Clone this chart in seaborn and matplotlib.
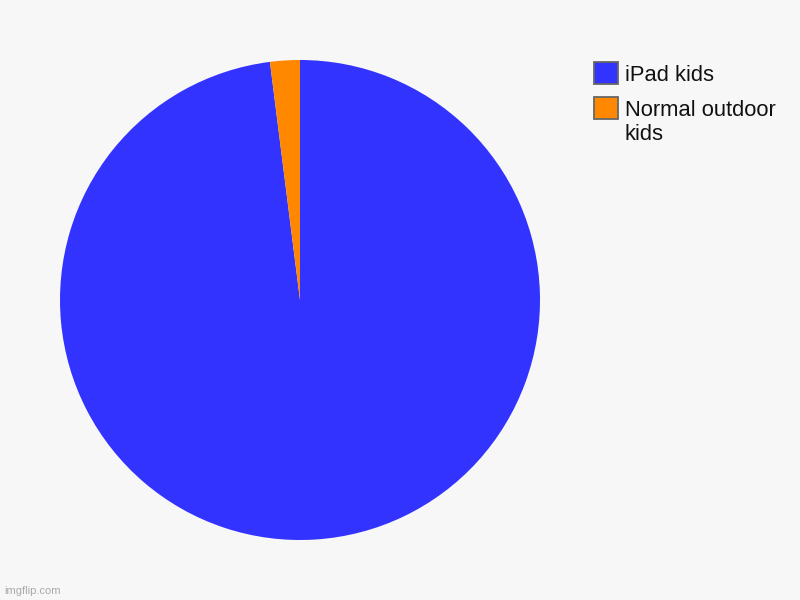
import matplotlib
matplotlib.use("Agg")
import matplotlib.pyplot as plt
from matplotlib.patches import Rectangle
import seaborn as sns

labels = ["iPad kids", "Normal outdoor\nkids"]
values = [98, 2]
colors = ["#3333FF", "#FF8800"]

sns.set_style("white")
plt.rcParams['font.family'] = ['Liberation Sans', 'DejaVu Sans']

bg = "#F7F7F7"
W, H = 800, 600
fig = plt.figure(figsize=(8, 6), dpi=100, facecolor=bg)
ax = fig.add_axes([60/W, 60/H, 480/W, 480/H])
ax.set_facecolor(bg)
ax.pie(values, colors=colors, startangle=90, counterclock=False,
       wedgeprops=dict(linewidth=0), radius=1.0)
ax.set_xlim(-1, 1)
ax.set_ylim(-1, 1)
ax.set_aspect('equal')
ax.axis('off')

# legend (drawn manually to match the reference layout)
box_x, box_w, box_h = 594, 24, 22
entry_tops = [62, 97]
line_gap = 24
for top, lab, col in zip(entry_tops, labels, colors):
    fig.patches.append(Rectangle((box_x/W, 1 - (top + box_h)/H), box_w/W, box_h/H,
                                 transform=fig.transFigure, facecolor=col,
                                 edgecolor="#666666", linewidth=1.3))
    for i, line in enumerate(lab.split("\n")):
        fig.text(625/W, 1 - (top + 19 + i*line_gap)/H, line, fontsize=15.8,
                 color="#111111", ha='left', va='baseline')

fig.text(4/W, 1 - 591/H, "imgflip.com", fontsize=8, color="#aaaaaa", va='center', ha='left')

fig.savefig("out.png", dpi=100, facecolor=bg)
